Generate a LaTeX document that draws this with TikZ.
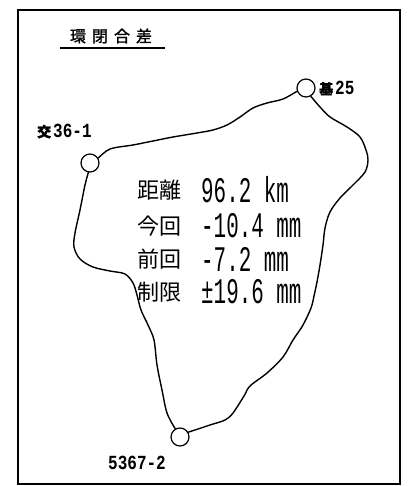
\documentclass[tikz,border=0pt]{standalone}
\usepackage{fontspec}
\newfontfamily\cjk{Noto Sans CJK JP}
\newfontfamily\cjkb[FakeBold=1.5]{Noto Sans CJK JP}
\newfontfamily\numf[FakeStretch=0.58]{Liberation Mono}
\newfontfamily\labf[FakeStretch=0.8]{Liberation Mono}
\begin{document}
\begin{tikzpicture}[x=1pt,y=-1pt,
  stn/.style={circle,draw,line width=1.2pt,minimum size=18pt,inner sep=0pt},
  lab/.style={anchor=west,inner sep=0pt,font=\bfseries\labf\fontsize{20}{20}\selectfont},
  key/.style={anchor=west,inner sep=0pt,font=\cjk\fontsize{22}{22}\selectfont},
  val/.style={anchor=west,inner sep=0pt,font=\numf\fontsize{36}{36}\selectfont},
  route/.style={line width=1.4pt,line join=round,line cap=round}]
\useasboundingbox (0,0) rectangle (408,486);
\draw[line width=1.3pt] (18,10) rectangle (400,484);
% title
\node[inner sep=0pt,font=\cjkb\fontsize{16}{16}\selectfont] (title) at (111,36) {環\hspace{6pt}閉\hspace{6pt}合\hspace{6pt}差};
\coordinate (ul1) at (60,48);
\coordinate (ul2) at (165,48);
\draw[line width=1.2pt] (ul1) -- (ul2);
% stations
\node[stn] (ki) at (306,88) {};
\node[stn] (j) at (90,163) {};
\node[stn] (s) at (180,437) {};
\node[lab] (kil) at (319,88) {{\cjkb\fontsize{14}{14}\selectfont 基}\hspace{2pt}25};
\node[lab] (jl) at (37,131) {{\cjkb\fontsize{14}{14}\selectfont 交}\hspace{2pt}36-1};
\node[lab] (sl) at (108,463) {5367-2};
% route
\draw[route] plot[smooth,tension=0.55] coordinates {(j.30) (110,149) (133,145) (153,141) (173,137) (197,133) (213,130) (227,125) (240,117) (253,108) (267,103) (283,99) (ki.200)};
\draw[route] plot[smooth,tension=0.55] coordinates {(ki.-60) (320,107) (330,117) (347,127) (360,137) (366,150) (368,160) (365,172) (353,185) (340,198) (330,212) (325,228) (323,245) (320,265) (317,282) (314,296) (311,308) (303,325) (293,340) (283,357) (267,373) (250,386) (244,396) (233,413) (225,420) (210,425) (s.30)};
\draw[route] plot[smooth,tension=0.55] coordinates {(s.120) (167,413) (162,390) (157,365) (154,340) (148,325) (141,310) (137,295) (133,283) (125,274) (110,271) (93,267) (80,259) (74,247) (75,233) (80,210) (85,185) (j.-100)};
% texts
\node[key] (k1) at (137,190) {距離};
\node[val] (v1) at (201,190) {96.2 km};
\node[key] (k2) at (137,226) {今回};
\node[val] (v2) at (201,226) {-10.4 mm};
\node[key] (k3) at (137,259) {前回};
\node[val] (v3) at (201,259) {-7.2 mm};
\node[key] (k4) at (137,292) {制限};
\node[val] (v4) at (201,292) {±19.6 mm};
\end{tikzpicture}
\end{document}
